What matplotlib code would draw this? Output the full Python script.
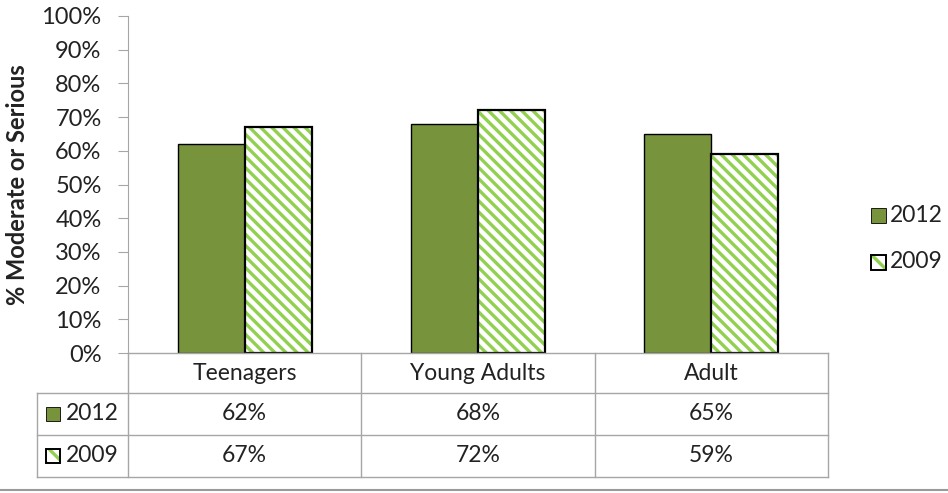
import matplotlib.pyplot as plt
from matplotlib.patches import Rectangle
from matplotlib.ticker import PercentFormatter
import numpy as np

plt.rcParams["font.family"] = ["Lato", "DejaVu Sans"]
plt.rcParams["hatch.linewidth"] = 2.4

groups = ["Teenagers", "Young Adults", "Adult"]
years = ["2012", "2009"]
pct_2012 = [62, 68, 65]
pct_2009 = [67, 72, 59]
y_ticks = list(range(0, 101, 10))

DARK_GREEN = "#77933C"
LIGHT_GREEN = "#92D050"
GRID_GREY = "#A6A6A6"
TXT = "#222222"
FS = 16.5
HATCH = "\\\\\\"
W, H = 948, 493

fig = plt.figure(figsize=(W / 100, H / 100), dpi=100)


def fx(px):
    return px / W


def fy(py):
    return 1 - py / H


# main bar area
ax = fig.add_axes([fx(128), fy(353), fx(828) - fx(128), fy(16) - fy(353)])
x = np.arange(len(groups))
bw = 0.287
ax.bar(x - bw / 2, pct_2012, bw, color=DARK_GREEN, edgecolor="black", linewidth=1.0)
# hatch takes the edge colour, so stripes first, black outline on top
ax.bar(x + bw / 2, pct_2009, bw, color="white", edgecolor=LIGHT_GREEN,
       linewidth=0, hatch=HATCH)
ax.bar(x + bw / 2, pct_2009, bw, fill=False, edgecolor="black", linewidth=1.6)
ax.set_xlim(-0.5, len(groups) - 0.5)
ax.set_ylim(0, 100)
ax.set_yticks(y_ticks)
ax.yaxis.set_major_formatter(PercentFormatter(decimals=0))
ax.set_xticks([])
for side in ("top", "right", "bottom"):
    ax.spines[side].set_visible(False)
ax.spines["left"].set_color(GRID_GREY)
ax.tick_params(axis="y", length=7, color=GRID_GREY, labelsize=17, pad=12,
               labelcolor=TXT)
ax.axhline(0, color=GRID_GREY, lw=1.0, clip_on=False)
fig.text(fx(18), fy(185), "% Moderate or Serious", rotation=90, ha="center",
         va="center", fontsize=17, fontweight="bold", color=TXT)

# data table under the bars
tab = fig.add_axes([0, 0, 1, 1])
tab.set_xlim(0, W)
tab.set_ylim(H, 0)
tab.axis("off")
col_edges = [128, 361, 595, 828]
row_edges = [353, 393, 435, 477]
left_edge = 37
lk = dict(color=GRID_GREY, lw=1.0)
for cx in col_edges:
    tab.plot([cx, cx], [row_edges[0], row_edges[-1]], **lk)
tab.plot([left_edge, left_edge], [row_edges[1], row_edges[-1]], **lk)
for ry in row_edges[1:]:
    tab.plot([left_edge, col_edges[-1]], [ry, ry], **lk)
tab.plot([0, W], [490, 490], color="#9A9A9A", lw=1.5)

for i, name in enumerate(groups):
    cx = (col_edges[i] + col_edges[i + 1]) / 2
    tab.text(cx, (row_edges[0] + row_edges[1]) / 2 + 1, name, ha="center",
             va="center", fontsize=FS, color=TXT)
    for r, vals in enumerate([pct_2012, pct_2009]):
        cy = (row_edges[r + 1] + row_edges[r + 2]) / 2
        tab.text(cx, cy, f"{vals[i]}%", ha="center", va="center",
                 fontsize=FS, color=TXT)


def key(x0, cy, size, idx):
    if idx == 0:
        tab.add_patch(Rectangle((x0, cy - size / 2), size, size,
                                facecolor=DARK_GREEN, edgecolor="black", lw=0.6))
    else:
        tab.add_patch(Rectangle((x0, cy - size / 2), size, size, facecolor="white",
                                edgecolor=LIGHT_GREEN, lw=0, hatch="\\\\"))
        tab.add_patch(Rectangle((x0, cy - size / 2), size, size, fill=False,
                                edgecolor="black", lw=1.4))


for r, yr in enumerate(years):
    cy = (row_edges[r + 1] + row_edges[r + 2]) / 2
    key(46, cy, 14, r)
    tab.text(66, cy, yr, ha="left", va="center", fontsize=FS, color=TXT)

# legend on the right
for r, (yr, cy) in enumerate(zip(years, [215, 262])):
    key(871, cy, 15, r)
    tab.text(890, cy, yr, ha="left", va="center", fontsize=FS, color=TXT)

fig.savefig("out.png", dpi=100)
